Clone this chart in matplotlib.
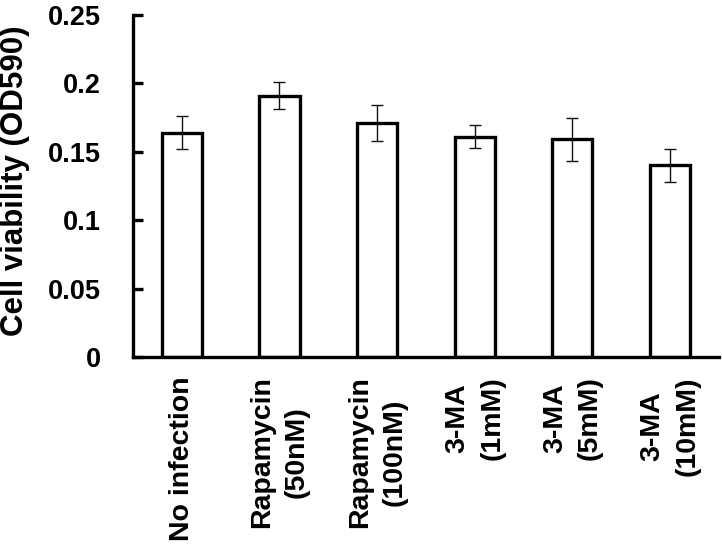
import matplotlib
matplotlib.use('Agg')
import matplotlib.pyplot as plt
from numpy import arange

plt.rcParams['font.family'] = ['Liberation Sans', 'DejaVu Sans']
plt.rcParams['font.weight'] = 'bold'

groups = ['No infection', 'Rapamycin\n(50nM)', 'Rapamycin\n(100nM)',
          '3-MA\n(1mM)', '3-MA\n(5mM)', '3-MA\n(10mM)']
viability = [0.164, 0.191, 0.171, 0.161, 0.159, 0.140]
errors = [0.012, 0.010, 0.013, 0.0085, 0.0155, 0.012]
yticks = [0, 0.05, 0.1, 0.15, 0.2, 0.25]
ytick_labels = ['0', '0.05', '0.1', '0.15', '0.2', '0.25']

fig = plt.figure(figsize=(7.22, 5.52), dpi=100)
ax = fig.add_axes([0.1842, 0.3533, 0.8116, 0.6196])

index = arange(len(groups))
ax.bar(index, viability, width=0.41, color='white', edgecolor='black',
       linewidth=2.4, zorder=2)
ax.errorbar(index, viability, yerr=errors, fmt='none', ecolor='#111111',
            elinewidth=1.0, capsize=4, capthick=1.0, zorder=3)

ax.set_xlim(-0.5, 5.5)
ax.set_ylim(0, 0.25)
ax.set_yticks(yticks)
ax.set_yticklabels(ytick_labels, fontsize=19.5, fontweight='bold')
ax.set_xticks(index)
ax.set_xticklabels(groups, rotation=90, fontsize=20.5, fontweight='bold',
                   ha='center', va='top', multialignment='center',
                   linespacing=1.45)

for side in ['top', 'right']:
    ax.spines[side].set_visible(False)
for side in ['left', 'bottom']:
    ax.spines[side].set_linewidth(2.4)
ax.tick_params(axis='y', direction='in', length=7, width=2.4, pad=23)
ax.tick_params(axis='x', length=0, pad=14)

fig.text(0.0208, 0.672, 'Cell viability (OD590)', rotation=90,
         ha='center', va='center', fontsize=22.5, fontweight='bold')

fig.savefig('out.png', dpi=100)
